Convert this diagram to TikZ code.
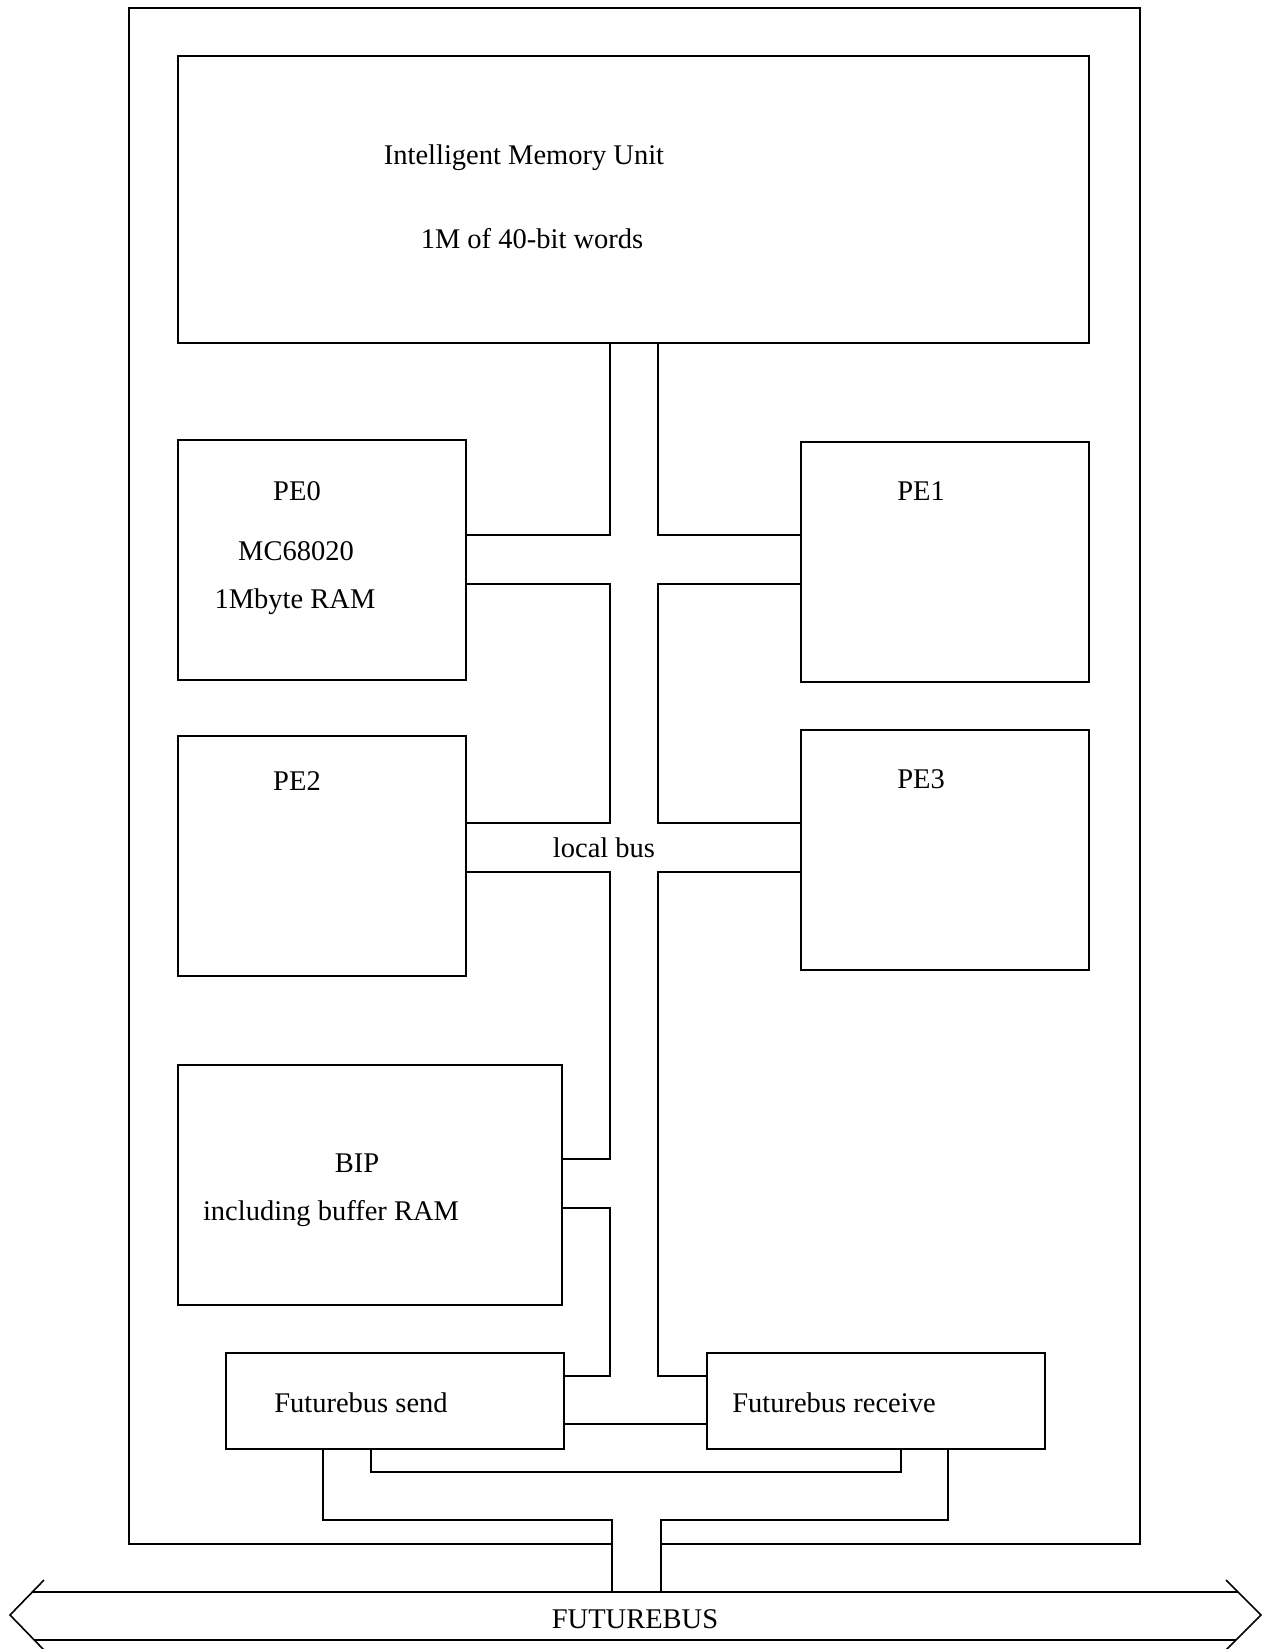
\documentclass[tikz,border=0pt]{standalone}
\usepackage{fontspec}
\setmainfont{Liberation Serif}
\usetikzlibrary{positioning}
\begin{document}
\begin{tikzpicture}[x=1pt,y=-1pt,
unit/.style={draw,line width=1.6pt,inner sep=0pt,outer sep=0pt,anchor=north west},
pebox/.style={unit,minimum width=288pt,minimum height=240pt},
fbbox/.style={unit,minimum width=338pt,minimum height=96pt},
lbl/.style={anchor=base,inner sep=0pt,font=\fontsize{28.5}{34}\selectfont},
bus/.style={line width=1.6pt}]
\useasboundingbox(0,0)rectangle(1264,1649);
\draw[bus](612,1544)-|(129,8)-|(1140,1544)--(661,1544);
\node[unit,minimum width=911pt,minimum height=287pt](imu)at(178,56){};
\node[pebox,below=97pt of imu.south west,anchor=north west](pe0){};
\node[pebox,right=335pt of pe0.north east,anchor=north west,yshift=-2pt](pe1){};
\node[pebox,below=56pt of pe0.south west,anchor=north west](pe2){};
\node[pebox,below=48pt of pe1.south west,anchor=north west](pe3){};
\node[pebox,minimum width=384pt,below=89pt of pe2.south west,anchor=north west](bip){};
\node[fbbox,below=48pt of bip.south west,anchor=north west,xshift=48pt](send){};
\node[fbbox,right=143pt of send.north east,anchor=north west](recv){};
\node[lbl](imut)at(524,164){Intelligent Memory Unit};
\node[lbl](imus)at(532,248){1M of 40-bit words};
\node[lbl](pe0t)at(297,500){PE0};
\node[lbl](pe0a)at(296,560){MC68020};
\node[lbl](pe0b)at(295,608){1Mbyte RAM};
\node[lbl](pe1t)at(921,500){PE1};
\node[lbl](pe2t)at(297,790){PE2};
\node[lbl](pe3t)at(921,788){PE3};
\node[lbl](lbus)at(604,857){local bus};
\node[lbl](bipt)at(357,1172){BIP};
\node[lbl](bips)at(331,1220){including buffer RAM};
\node[lbl](sendt)at(361,1412){Futurebus send};
\node[lbl](recvt)at(834,1412){Futurebus receive};
\node[lbl](fbus)at(635,1628){FUTUREBUS};
\coordinate(bl)at(610,0);\coordinate(br)at(658,0);
\coordinate(fl)at(612,1592);\coordinate(fr)at(661,1592);
\draw[bus](imu.south-|bl)|-(pe0.east|-0,535);
\draw[bus](pe0.east|-0,584)-|(bl|-0,823)--(pe2.east|-0,823);
\draw[bus](pe2.east|-0,872)-|(bl|-0,1159)--(bip.east|-0,1159);
\draw[bus](bip.east|-0,1208)-|(bl|-0,1376)--(send.east|-0,1376);
\draw[bus](imu.south-|br)|-(pe1.west|-0,535);
\draw[bus](pe1.west|-0,584)-|(br|-0,823)--(pe3.west|-0,823);
\draw[bus](pe3.west|-0,872)-|(br|-0,1376)--(recv.west|-0,1376);
\draw[bus](send.east|-0,1424)--(recv.west|-0,1424);
\draw[bus](send.south-|371,0)--(371,1472)-|(recv.south-|901,0);
\draw[bus](send.south-|323,0)|-(fl|-0,1520)--(fl);
\draw[bus](recv.south-|948,0)|-(fr|-0,1520)--(fr);
\draw[bus](44,1580)--(10,1615)--(44,1650)(1226,1580)--(1261,1615)--(1226,1650)
(32,1592)--(1238,1592)(34,1640)--(1236,1640);
\end{tikzpicture}
\end{document}
